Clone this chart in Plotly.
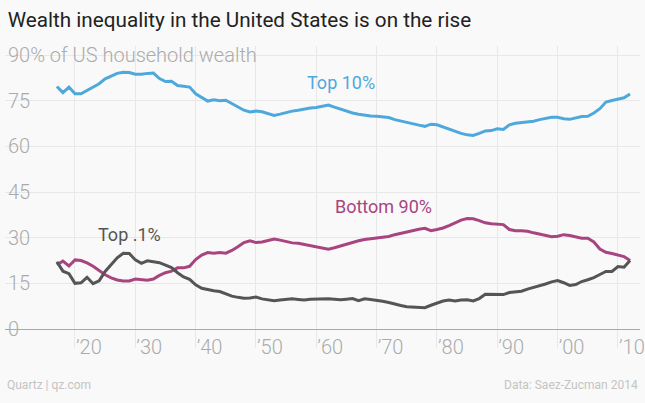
import plotly.graph_objects as go

years = list(range(1917, 2013))

top10 = [79.7, 77.7, 79.5, 77.3, 77.3, 78.4, 79.3, 80.6, 82.2, 83.2,
         84.0, 84.4, 84.3, 83.7, 83.7, 84.0, 84.1, 82.3, 81.3, 81.4,
         80.0, 79.8, 79.5, 77.3, 76.0, 74.9, 75.3, 75.0, 75.2, 74.1,
         73.0, 71.9, 71.3, 71.6, 71.4, 70.8, 70.2, 70.6, 71.2, 71.6,
         71.9, 72.3, 72.6, 72.8, 73.2, 73.6, 72.9, 72.2, 71.6, 71.0,
         70.6, 70.2, 70.0, 69.9, 69.8, 69.5, 68.8, 68.3, 67.9, 67.5,
         67.0, 66.6, 67.3, 67.1, 66.4, 65.6, 64.9, 64.3, 63.8, 63.6,
         64.3, 65.1, 65.2, 65.8, 65.6, 67.1, 67.6, 67.8, 68.0, 68.3,
         68.8, 69.3, 69.6, 69.6, 69.1, 68.9, 69.4, 69.8, 69.9, 71.0,
         72.4, 74.6, 75.1, 75.6, 76.0, 77.2]

bottom90 = [21.1, 22.3, 20.7, 22.7, 22.5, 21.7, 20.6, 19.3, 17.8, 16.8,
            16.1, 15.8, 15.8, 16.4, 16.2, 16.0, 16.4, 17.6, 18.5, 19.0,
            20.1, 20.1, 20.6, 22.8, 24.3, 25.1, 24.9, 25.1, 24.9, 25.8,
            27.0, 28.4, 29.0, 28.4, 28.6, 29.0, 29.6, 29.2, 28.7, 28.3,
            28.2, 27.8, 27.4, 27.0, 26.6, 26.2, 26.7, 27.3, 27.9, 28.5,
            29.0, 29.4, 29.7, 29.8, 30.1, 30.4, 31.0, 31.5, 31.8, 32.3,
            32.8, 33.1, 32.3, 32.7, 33.2, 34.0, 35.0, 35.8, 36.3, 36.2,
            35.6, 34.9, 34.6, 34.5, 34.3, 32.7, 32.3, 32.3, 32.1, 31.6,
            31.1, 30.6, 30.3, 30.5, 31.0, 30.7, 30.2, 29.8, 29.8, 28.6,
            26.3, 25.2, 24.8, 24.3, 23.8, 22.5]

top01 = [22.1, 19.0, 18.2, 15.0, 15.2, 17.0, 14.9, 15.8, 18.9, 21.0,
         23.4, 24.9, 24.8, 22.7, 21.6, 22.4, 22.2, 21.8, 21.0, 20.2,
         18.5, 17.1, 16.3, 14.5, 13.4, 12.9, 12.6, 12.3, 11.6, 10.8,
         10.4, 10.1, 10.2, 10.5, 9.9, 9.6, 9.3, 9.5, 9.7, 9.9,
         9.7, 9.5, 9.8, 9.9, 9.9, 9.9, 9.8, 9.6, 9.8, 10.0,
         9.3, 9.9, 9.7, 9.5, 9.1, 8.7, 8.1, 7.7, 7.3, 7.2,
         7.1, 7.0, 7.8, 8.5, 9.2, 9.5, 9.2, 9.5, 9.6, 9.2,
         10.0, 11.4, 11.4, 11.3, 11.3, 12.0, 12.3, 12.4, 13.1, 13.6,
         14.2, 14.8, 15.5, 15.9, 15.2, 14.3, 14.6, 15.6, 16.2, 16.9,
         17.9, 18.9, 18.9, 20.5, 20.3, 22.5]

x_tickvals = [1920, 1930, 1940, 1950, 1960, 1970, 1980, 1990, 2000, 2010]
x_ticktext = ["’20", "’30", "’40", "’50", "’60", "’70", "’80", "’90", "’00", "’10"]
y_tickvals = [0, 15, 30, 45, 60, 75, 90]
y_ticktext = ["0", "15", "30", "45", "60", "75", "90% of US household wealth"]

BLUE = "#4fa8dc"
PINK = "#a8447f"
GRAY = "#555555"
BG = "#f9f9f9"
GRID = "#e8e8e8"
FONT = "Roboto"

fig = go.Figure()
fig.add_trace(go.Scatter(x=years, y=bottom90, mode="lines",
                         line=dict(color=PINK, width=3), name="Bottom 90%"))
fig.add_trace(go.Scatter(x=years, y=top01, mode="lines",
                         line=dict(color=GRAY, width=3), name="Top .1%"))
fig.add_trace(go.Scatter(x=years, y=top10, mode="lines",
                         line=dict(color=BLUE, width=3), name="Top 10%"))

fig.update_layout(
    width=645, height=403,
    margin=dict(l=5, r=5, t=46, b=74, autoexpand=False),
    paper_bgcolor=BG, plot_bgcolor=BG,
    showlegend=False,
    font=dict(family=FONT, color="#a8a8a8"),
    title=dict(text="Wealth inequality in the United States is on the rise",
               x=0.012, xref="container", xanchor="left",
               y=1 - 20 / 403, yref="container", yanchor="middle",
               font=dict(family=FONT, size=20.7, color="#222222")),
    xaxis=dict(range=[1908.40, 2013.65], tickvals=x_tickvals, ticktext=x_ticktext,
               showgrid=True, gridcolor=GRID, gridwidth=1,
               ticks="outside", ticklen=18, tickcolor=GRID, tickwidth=1,
               ticklabelposition="outside right", ticklabeloverflow="allow",
               tickfont=dict(family=FONT, size=20, color="#ababab", weight=300),
               showline=True, linecolor="#aaaaaa", linewidth=1,
               zeroline=False, fixedrange=True, automargin=False),
    yaxis=dict(range=[0, 93], tickvals=y_tickvals, ticktext=y_ticktext,
               showgrid=True, gridcolor=GRID, gridwidth=1,
               ticklabelposition="inside", ticks="", ticklabeloverflow="allow",
               tickfont=dict(family=FONT, size=20, color="#ababab", weight=300),
               zeroline=False, showline=False, fixedrange=True, automargin=False),
    annotations=[
        dict(x=1964.1, y=80.9, xref="x", yref="y", text="Top 10%", showarrow=False,
             font=dict(family=FONT, size=18, color=BLUE)),
        dict(x=1971.1, y=40.1, xref="x", yref="y", text="Bottom 90%", showarrow=False,
             font=dict(family=FONT, size=18, color=PINK)),
        dict(x=1929.1, y=30.9, xref="x", yref="y", text="Top .1%", showarrow=False,
             font=dict(family=FONT, size=18, color=GRAY)),
        dict(x=0, y=-0.198, xref="paper", yref="paper", text="Quartz | qz.com",
             showarrow=False, xanchor="left", yanchor="middle",
             font=dict(family=FONT, size=12, color="#c4c4c4")),
        dict(x=1, y=-0.198, xref="paper", yref="paper", text="Data: Saez-Zucman 2014",
             showarrow=False, xanchor="right", yanchor="middle",
             font=dict(family=FONT, size=12, color="#c4c4c4")),
    ],
)

fig.write_html("out.html",
               config={"displayModeBar": False},
               post_script="document.body.style.margin='0px';"
                           "document.body.style.background='" + BG + "';")
